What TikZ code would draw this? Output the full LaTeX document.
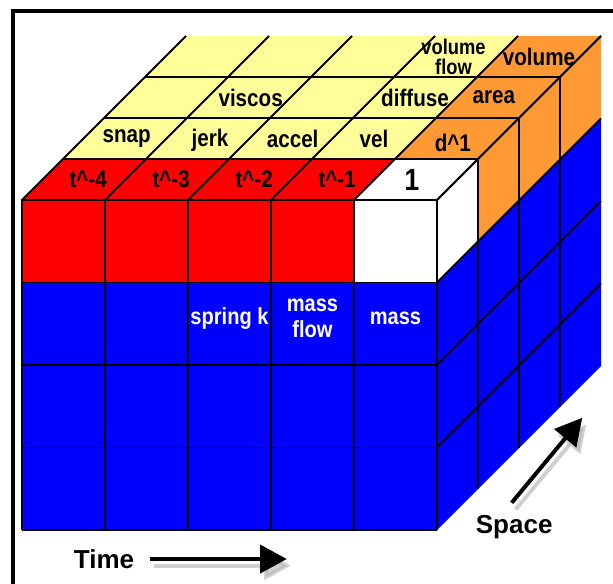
\documentclass[tikz,border=0pt]{standalone}
\usepackage{fontspec}
\setmainfont{Liberation Sans}
\newfontfamily\cellfont[FakeStretch=0.86]{Liberation Sans}
\usetikzlibrary{arrows.meta}
\definecolor{cubered}{HTML}{FF0000}
\definecolor{cubeyellow}{HTML}{FFFF99}
\definecolor{cubeorange}{HTML}{FF9933}
\definecolor{cubeblue}{HTML}{0000FF}

\begin{document}
\begin{tikzpicture}[x={(62.25pt,0pt)},y={(0pt,61.875pt)},z={(30.75pt,30.75pt)},
        gridline/.style={line width=1.4pt},
        toplbl/.style={inner sep=1pt,font={\cellfont\bfseries\fontsize{18}{13.5}\selectfont}},
        frontlbl/.style={inner sep=1pt,text=white,align=center,font={\cellfont\bfseries\fontsize{17.5}{19.5}\selectfont}},
        axislbl/.style={inner sep=1pt,font={\bfseries\fontsize{19.5}{20}\selectfont}},
        bigarrow/.style={line width=3pt,-{Triangle[length=20pt,width=21pt]}},
        arrowshadow/.style={bigarrow,draw=black!30,fill=black!30,opacity=.6,transform canvas={shift={(3pt,-5pt)}}}]
        \useasboundingbox (-0.265,-0.6545) rectangle (7.1205,6.4242);
        \draw[line width=3pt] (-0.1084,-0.6545) |- (7.1205,6.285);
        % front face
        \fill[cubeblue] (0,0,0) rectangle (5,3,0);
        \fill[cubered] (0,3,0) rectangle (4,4,0);
        \fill[white] (4,3,0) rectangle (5,4,0);
        % top face
        \fill[cubered] (0,4,0) -- (4,4,0) -- (4,4,1) -- (0,4,1) -- cycle;
        \fill[white] (4,4,0) -- (5,4,0) -- (5,4,1) -- (4,4,1) -- cycle;
        \fill[cubeyellow] (0,4,1) -- (4,4,1) -- (4,4,4) -- (0,4,4) -- cycle;
        \fill[cubeorange] (4,4,1) -- (5,4,1) -- (5,4,4) -- (4,4,4) -- cycle;
        % side face
        \fill[cubeblue] (5,0,0) -- (5,3,0) -- (5,3,4) -- (5,0,4) -- cycle;
        \fill[white] (5,3,0) -- (5,4,0) -- (5,4,1) -- (5,3,1) -- cycle;
        \fill[cubeorange] (5,3,1) -- (5,4,1) -- (5,4,4) -- (5,3,4) -- cycle;
        \foreach \i in {0,...,5} \draw[gridline] (\i,0,0) -- (\i,4,0) -- (\i,4,4);
        \foreach \j in {0,...,4} \draw[gridline] (0,\j,0) -- (5,\j,0);
        \foreach \j in {1,...,4} \draw[gridline] (5,\j,0) -- (5,\j,4);
        \foreach \k in {1,...,3} \draw[gridline] (0,4,\k) -- (5,4,\k) -- (5,0,\k);

        \node[toplbl] (tm4) at (0.55,4,0.5) {t\textasciicircum-4};
        \node[toplbl] (tm3) at (1.55,4,0.5) {t\textasciicircum-3};
        \node[toplbl] (tm2) at (2.55,4,0.5) {t\textasciicircum-2};
        \node[toplbl] (tm1) at (3.55,4,0.5) {t\textasciicircum-1};
        \node[toplbl,font={\cellfont\bfseries\fontsize{23}{23}\selectfont}] (one) at (4.45,4,0.5) {1};
        \node[toplbl] (snap) at (0.52,4,1.5) {snap};
        \node[toplbl] (jerk) at (1.55,4,1.45) {jerk};
        \node[toplbl] (accel) at (2.52,4,1.5) {accel};
        \node[toplbl] (vel) at (3.5,4,1.5) {vel};
        \node[toplbl] (d1) at (4.5,4,1.4) {d\textasciicircum1};
        \node[toplbl] (viscos) at (1.52,4,2.5) {viscos};
        \node[toplbl] (diffuse) at (3.5,4,2.5) {diffuse};
        \node[toplbl] (area) at (4.45,4,2.5) {area};
        \node[toplbl,align=center,inner sep=0pt,font={\cellfont\bfseries\fontsize{16}{15}\selectfont}] (volflow) at (3.47,4,3.5) {volume\\flow};
        \node[toplbl,inner sep=0pt] (volume) at (4.5,4,3.5) {volume};

        \node[frontlbl] (springk) at (2.5,2.56) {spring k};
        \node[frontlbl] (massflow) at (3.5,2.56) {mass\\flow};
        \node[frontlbl] (mass) at (4.5,2.56) {mass};

        \node[axislbl] (time) at (0.988,-0.352) {Time};
        \node[axislbl] (space) at (5.93,0.036) {Space};
        \coordinate (timetip) at (3.19,-0.352);
        \coordinate (spacetail) at (5.90,0.33);
        \coordinate (spacetip) at (6.75,1.36);
        \draw[arrowshadow] ([xshift=11pt]time.east) -- (timetip);
        \draw[bigarrow] ([xshift=11pt]time.east) -- (timetip);
        \draw[arrowshadow] (spacetail) -- (spacetip);
        \draw[bigarrow] (spacetail) -- (spacetip);
    \end{tikzpicture}
\end{document}
